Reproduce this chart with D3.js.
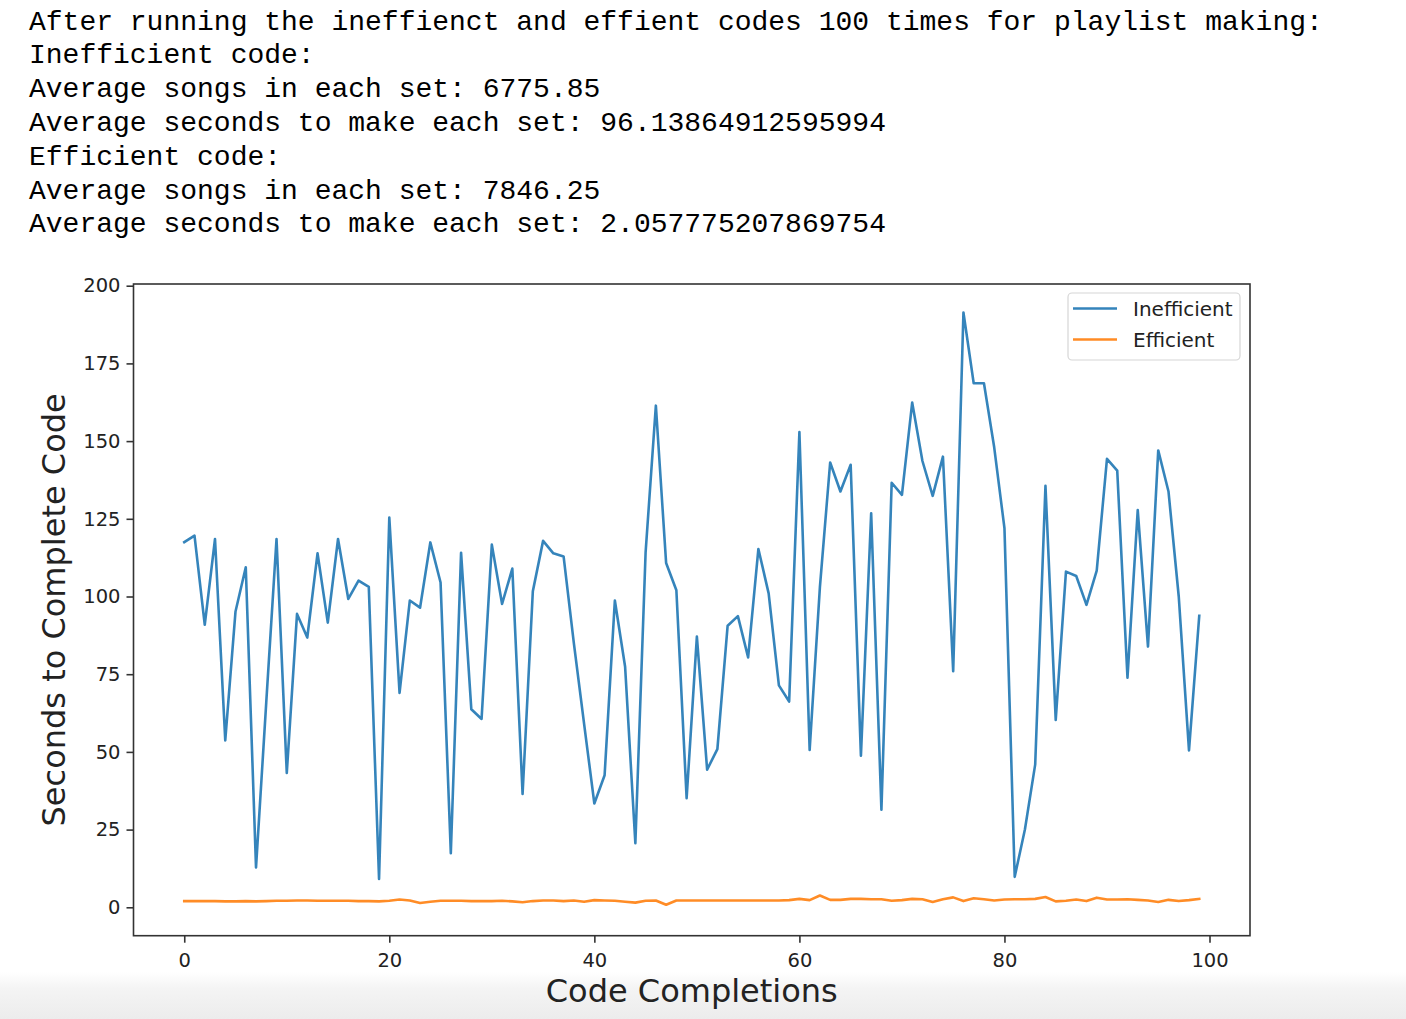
<!DOCTYPE html>
<html>
<head>
<meta charset="utf-8">
<script src="https://cdn.jsdelivr.net/npm/d3@7"></script>
<style>
  body { margin: 0; background: #fff; }
  .out { font-family: "Liberation Mono", "DejaVu Sans Mono", monospace; font-size: 28px; fill: #000; }
  .axis text { font-family: "DejaVu Sans", sans-serif; font-size: 19.5px; fill: #222; }
  .axis line { stroke: #333; stroke-width: 1.6; }
  .lbl { font-family: "DejaVu Sans", sans-serif; font-size: 32px; fill: #222; }
  .leg { font-family: "DejaVu Sans", sans-serif; font-size: 20px; fill: #222; }
</style>
</head>
<body>
<script>
const w = 1406
const h = 1019

// printed output above the chart
const outputLines = [
  'After running the ineffienct and effient codes 100 times for playlist making:',
  'Inefficient code:',
  'Average songs in each set: 6775.85',
  'Average seconds to make each set: 96.13864912595994',
  'Efficient code:',
  'Average songs in each set: 7846.25',
  'Average seconds to make each set: 2.057775207869754'
]

const seriesNames = ['Inefficient', 'Efficient']
const seriesColors = ['#1f77b4', '#ff7f0e']

const inefficient = [
  117.5, 119.6, 90.9, 118.5, 53.7, 95.2, 109.4, 12.8, 66, 118.5,
  43.2, 94.4, 86.8, 113.9, 91.6, 118.5, 99.2, 105.1, 103.1, 9.1,
  125.4, 69.0, 98.7, 96.4, 117.4, 104.5, 17.4, 114.1, 63.7, 60.6,
  116.7, 97.6, 109.0, 36.5, 101.7, 117.9, 113.9, 112.9, 85, 59,
  33.4, 42.5, 98.7, 77.4, 20.6, 114.3, 161.4, 110.8, 102.0, 35.1,
  87.1, 44.3, 50.9, 90.6, 93.7, 80.4, 115.3, 101.0, 71.4, 66.2,
  152.9, 50.6, 103, 143.1, 133.8, 142.4, 48.8, 126.8, 31.4, 136.6,
  132.7, 162.4, 143.6, 132.4, 145.0, 76.0, 191.4, 168.6, 168.6, 148,
  122.0, 9.8, 25.1, 46.0, 135.6, 60.3, 108.0, 106.6, 97.3, 108.3,
  144.3, 140.5, 73.9, 127.8, 83.9, 147.0, 133.8, 100, 50.5, 93.8
]

const efficient = [
  2.0, 2.0, 2.0, 2.0, 1.9, 1.9, 2.0, 1.9, 2.0, 2.1,
  2.1, 2.2, 2.2, 2.1, 2.1, 2.1, 2.1, 2.0, 2.0, 1.9,
  2.1, 2.5, 2.2, 1.4, 1.8, 2.1, 2.1, 2.1, 2.0, 2.0,
  2.0, 2.1, 1.9, 1.6, 2.0, 2.2, 2.2, 2.0, 2.2, 1.8,
  2.3, 2.2, 2.1, 1.8, 1.5, 2.1, 2.2, 0.8, 2.2, 2.2,
  2.2, 2.2, 2.2, 2.2, 2.2, 2.2, 2.2, 2.2, 2.2, 2.3,
  2.7, 2.3, 3.8, 2.4, 2.4, 2.7, 2.7, 2.6, 2.6, 2.1,
  2.3, 2.7, 2.6, 1.7, 2.6, 3.2, 2.0, 2.9, 2.6, 2.2,
  2.5, 2.6, 2.6, 2.7, 3.3, 1.9, 2.1, 2.5, 2.0, 3.1,
  2.5, 2.5, 2.6, 2.4, 2.2, 1.7, 2.4, 2.0, 2.3, 2.7
]

const xTicks = [0, 20, 40, 60, 80, 100]
const yTicks = [0, 25, 50, 75, 100, 125, 150, 175, 200]

const plot = { left: 133.5, right: 1250, top: 284, bottom: 935.7 }

const svg = d3.select('body').append('svg')
  .attr('width', w)
  .attr('height', h)

// faint shading at the bottom edge of the page
const grad = svg.append('defs').append('linearGradient')
  .attr('id', 'fade').attr('x1', 0).attr('y1', 0).attr('x2', 0).attr('y2', 1)
grad.append('stop').attr('offset', 0).attr('stop-color', '#ffffff')
grad.append('stop').attr('offset', 0.35).attr('stop-color', '#f4f4f4')
grad.append('stop').attr('offset', 1).attr('stop-color', '#ececec')
svg.append('rect')
  .attr('x', 0).attr('y', 972).attr('width', w).attr('height', h - 972)
  .attr('fill', 'url(#fade)')

svg.append('g').selectAll('text')
  .data(outputLines)
  .enter()
  .append('text')
  .attr('class', 'out')
  .attr('x', 29)
  .attr('y', (d, i) => 29.5 + i * 33.8)
  .attr('xml:space', 'preserve')
  .text(d => d)

const idx = d3.range(inefficient.length)

const xScale = d3.scaleLinear()
  .domain([-4.95, 103.95])
  .range([plot.left, plot.right])

const yScale = d3.scaleLinear()
  .domain([-9.14, 200.55])
  .range([plot.bottom, plot.top])

const xAxisGen = d3.axisBottom(xScale).tickValues(xTicks).tickSize(7).tickPadding(6).tickSizeOuter(0)
const yAxisGen = d3.axisLeft(yScale).tickValues(yTicks).tickSize(7).tickPadding(6).tickSizeOuter(0)

const xAxis = svg.append('g')
  .attr('class', 'axis')
  .attr('transform', `translate(0,${plot.bottom})`)
  .call(xAxisGen)
xAxis.select('.domain').remove()
xAxis.selectAll('text').attr('dy', '0.95em')

const yAxis = svg.append('g')
  .attr('class', 'axis')
  .attr('transform', `translate(${plot.left},0)`)
  .call(yAxisGen)
yAxis.select('.domain').remove()

const lineFun = d3.line()
  .x((d, i) => xScale(i))
  .y(d => yScale(d))
  .curve(d3.curveLinear)

const clip = svg.append('clipPath').attr('id', 'plotclip')
clip.append('rect')
  .attr('x', plot.left).attr('y', plot.top)
  .attr('width', plot.right - plot.left).attr('height', plot.bottom - plot.top)

const lines = svg.append('g').attr('clip-path', 'url(#plotclip)')
;[inefficient, efficient].forEach(function (series, k) {
  lines.append('path')
    .attr('d', lineFun(series))
    .attr('fill', 'none')
    .attr('stroke', seriesColors[k])
    .attr('stroke-width', 2.6)
    .attr('stroke-linejoin', 'round')
    .attr('stroke-linecap', 'square')
    .attr('opacity', 0.9)
})

svg.append('rect')
  .attr('x', plot.left).attr('y', plot.top)
  .attr('width', plot.right - plot.left).attr('height', plot.bottom - plot.top)
  .attr('fill', 'none')
  .attr('stroke', '#333')
  .attr('stroke-width', 1.6)

// axis titles
svg.append('text')
  .attr('class', 'lbl')
  .attr('x', (plot.left + plot.right) / 2)
  .attr('y', 1002)
  .attr('text-anchor', 'middle')
  .text('Code Completions')

svg.append('text')
  .attr('class', 'lbl')
  .attr('transform', `translate(65,${(plot.top + plot.bottom) / 2}) rotate(-90)`)
  .attr('text-anchor', 'middle')
  .text('Seconds to Complete Code')

// legend
const legend = svg.append('g')
legend.append('rect')
  .attr('x', 1068).attr('y', 293)
  .attr('width', 172).attr('height', 67)
  .attr('rx', 4)
  .attr('fill', '#fff')
  .attr('fill-opacity', 0.8)
  .attr('stroke', '#d6d6d6')
  .attr('stroke-width', 1.2)

const items = legend.selectAll('g.item')
  .data(seriesNames)
  .enter()
  .append('g')
  .attr('class', 'item')
  .attr('transform', (d, i) => `translate(0,${308.5 + i * 31})`)
items.append('line')
  .attr('x1', 1073).attr('x2', 1117)
  .attr('stroke', (d, i) => seriesColors[i])
  .attr('stroke-width', 2.6)
  .attr('opacity', 0.9)
items.append('text')
  .attr('class', 'leg')
  .attr('x', 1133)
  .attr('dy', '0.36em')
  .text(d => d)
</script>
</body>
</html>
